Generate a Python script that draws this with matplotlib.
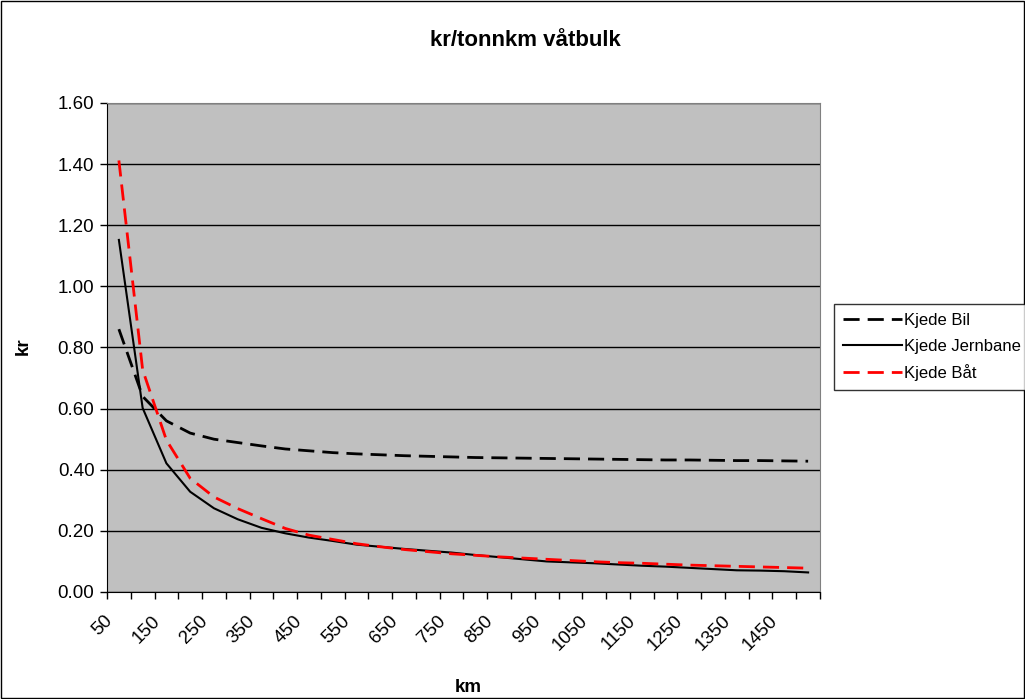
import numpy as np
import matplotlib.pyplot as plt
import matplotlib.transforms as mtransforms

plt.rcParams['font.family'] = ['Liberation Sans', 'DejaVu Sans']

km = list(range(50, 1501, 50))
bil = [0.86, 0.64, 0.56, 0.52, 0.50, 0.489, 0.478, 0.468, 0.462, 0.456,
       0.452, 0.449, 0.446, 0.444, 0.442, 0.440, 0.439, 0.438, 0.437, 0.436,
       0.435, 0.434, 0.433, 0.432, 0.432, 0.431, 0.430, 0.430, 0.429, 0.428]
jernbane = [1.152, 0.602, 0.421, 0.328, 0.274, 0.238, 0.21, 0.192, 0.178, 0.167,
            0.155, 0.148, 0.141, 0.135, 0.129, 0.121, 0.114, 0.107, 0.100, 0.097,
            0.094, 0.090, 0.086, 0.083, 0.079, 0.075, 0.071, 0.070, 0.068, 0.064]
baat = [1.412, 0.727, 0.497, 0.372, 0.311, 0.273, 0.24, 0.208, 0.186, 0.172,
        0.158, 0.148, 0.139, 0.132, 0.125, 0.12, 0.115, 0.111, 0.107, 0.103,
        0.099, 0.096, 0.094, 0.091, 0.088, 0.086, 0.084, 0.082, 0.080, 0.078]

W, H = 1025, 699
fig = plt.figure(figsize=(W / 100, H / 100), dpi=100)
ax = fig.add_axes([107 / W, 1 - 592 / H, (820 - 107) / W, (592 - 103) / H])
ax.set_facecolor('#c0c0c0')

x = np.arange(len(km))
ax.plot(x, bil, color='black', lw=2, dashes=(5.8, 2.9), label='Kjede Bil')
ax.plot(x, jernbane, color='black', lw=1.5, label='Kjede Jernbane')
ax.plot(x, baat, color='red', lw=2, dashes=(5.8, 2.9), label='Kjede Båt')

ax.set_xlim(-0.5, len(km) - 0.5)
ax.set_ylim(0, 1.6)
ax.set_yticks(np.arange(0, 1.61, 0.2))
ax.set_yticklabels(['%.2f' % v for v in np.arange(0, 1.61, 0.2)], fontsize=13.5)
ax.yaxis.grid(True, color='black', lw=1)
ax.set_axisbelow(True)

# tick marks on category boundaries, labels on every other category
ax.set_xticks(np.arange(-0.5, len(km), 1))
ax.set_xticklabels([])
ax.set_xticks(x[::2], minor=True)
ax.set_xticklabels([str(k) for k in km[::2]], minor=True, rotation=45,
                   ha='right', va='center', rotation_mode='anchor',
                   fontsize=13.5)
ax.tick_params(axis='x', which='major', length=5, width=1, direction='out')
ax.tick_params(axis='x', which='minor', length=0, pad=14)
ax.tick_params(axis='y', length=5, width=1, direction='out', pad=4)
shift = mtransforms.ScaledTranslation(-0.09, -0.07, fig.dpi_scale_trans)
for lab in ax.get_xticklabels(minor=True):
    lab.set_transform(lab.get_transform() + shift)

for s in ['top', 'right']:
    ax.spines[s].set_color('#808080')
for s in ['left', 'bottom']:
    ax.spines[s].set_color('black')

fig.text(525 / W, 1 - 40 / H, 'kr/tonnkm våtbulk', ha='center', va='center',
         fontsize=16, fontweight='bold')
fig.text(23 / W, 1 - 346 / H, 'kr', ha='center', va='center', rotation=90,
         fontsize=13.5, fontweight='bold')
fig.text(468 / W, 1 - 688 / H, 'km', ha='center', va='center',
         fontsize=13.5, fontweight='bold')

leg = fig.legend(loc='upper left', bbox_to_anchor=(834 / W, 1 - 304 / H),
                 fontsize=12, handlelength=3.5, frameon=True, fancybox=False,
                 borderaxespad=0, handletextpad=0.15, labelspacing=0.62,
                 borderpad=0.55)
leg.get_frame().set_edgecolor('black')
leg.get_frame().set_linewidth(1)

fig.patches.append(plt.Rectangle((1 / W, 1 / H), 1 - 2 / W, 1 - 2 / H,
                                 transform=fig.transFigure, fill=False,
                                 edgecolor='black', lw=1))

fig.savefig('out.png', dpi=100)
